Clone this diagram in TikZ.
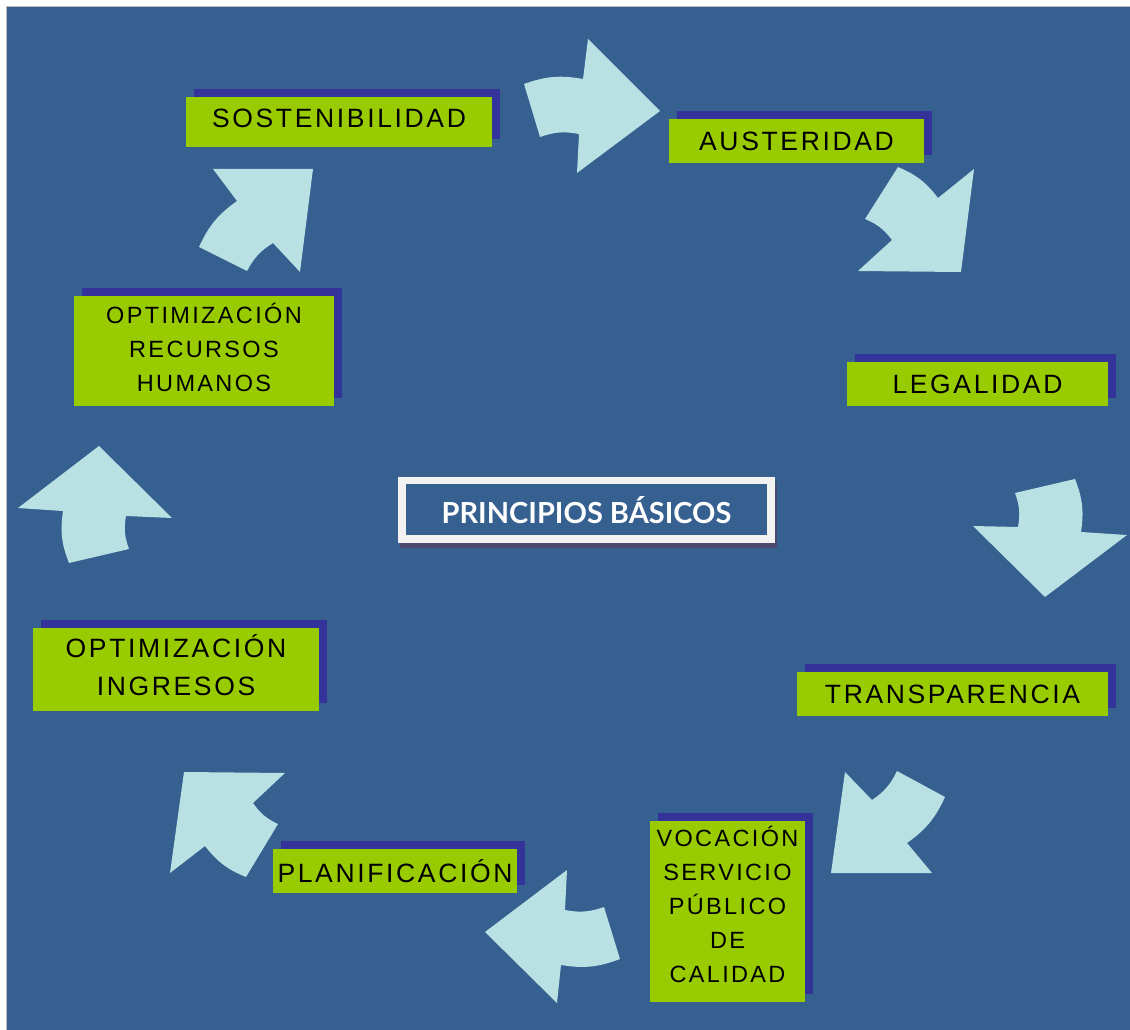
\documentclass[tikz,border=0pt]{standalone}
\usepackage{fontspec}
\setmainfont{Liberation Sans}
\newfontfamily\cajafont[LetterSpace=10]{Liberation Sans}
\newfontfamily\titulofont{Lato}
\usetikzlibrary{shadows}
\definecolor{fondo}{HTML}{35608F}
\definecolor{celeste}{HTML}{B9E0E3}
\definecolor{verde}{HTML}{99CC00}
\definecolor{sombra}{HTML}{333399}
\definecolor{sombratitulo}{HTML}{4A4A6E}
\definecolor{marco}{HTML}{F2F2F2}
\tikzset{
  principio/.style={fill=verde, text=black, inner sep=0pt, align=center,
    font=\cajafont\fontsize{26.5}{38}\selectfont,
    drop shadow={shadow xshift=8pt, shadow yshift=8pt, fill=sombra, opacity=1}},
  chico/.style={font=\cajafont\fontsize{23.5}{34}\selectfont},
  flecha/.style={fill=celeste},
  arcoext/.style={bend left=15},
  arcoint/.style={bend right=15},
}
\begin{document}
\begin{tikzpicture}[x=1pt, y=-1pt, line join=round]
  \useasboundingbox (0,0) rectangle (1130,1030);
  \fill[white] (0,0) rectangle (1130,1030);
  \filldraw[fill=fondo, draw=gray!55, line width=1pt] (6.5,6.5) rectangle (1131,1031);
  % flechas del ciclo
  \fill[flecha] (524,84) to[arcoext] (583,79) -- (588,39) -- (660,111) -- (577,173) -- (579,134) to[arcoint] (540,137) -- cycle;
  \fill[flecha] (898,167) to[arcoext] (938,198) -- (974,169) -- (961,272) -- (858,271) -- (892,240) to[arcoint] (865,219) -- cycle;
  \fill[flecha] (1075,479) to[arcoext] (1081,532) -- (1127,535) -- (1045,597) -- (973,526) -- (1018,527) to[arcoint] (1015,493) -- cycle;
  \fill[flecha] (945,797) to[arcoext] (907,843) -- (932,873) -- (831,873) -- (845,772) -- (872,800) to[arcoint] (897,771) -- cycle;
  \fill[flecha] (620,959) to[arcoext] (561,965) -- (557,1003) -- (485,932) -- (567,870) -- (565,910) to[arcoint] (604,907) -- cycle;
  \fill[flecha] (246,877) to[arcoext] (205,846) -- (170,873) -- (184,772) -- (285,773) -- (253,803) to[arcoint] (278,824) -- cycle;
  \fill[flecha] (69,563) to[arcoext] (63,511) -- (18,508) -- (99,446) -- (172,518) -- (126,516) to[arcoint] (129,549) -- cycle;
  \fill[flecha] (199,247) to[arcoext] (237,201) -- (213,169) -- (313,169) -- (300,272) -- (273,243) to[arcoint] (247,271) -- cycle;
  % centro
  \node (principios) at (586.5,510) [minimum width=377pt, minimum height=66pt, inner sep=0pt,
    fill=marco, text=white, font=\titulofont\bfseries\fontsize{29}{36}\selectfont,
    drop shadow={shadow xshift=2pt, shadow yshift=-5pt, fill=sombratitulo, opacity=1},
    path picture={\fill[fondo] ([xshift=8pt,yshift=8pt]path picture bounding box.south west)
      rectangle ([xshift=-8pt,yshift=-7pt]path picture bounding box.north east);}]
    {PRINCIPIOS BÁSICOS};
  % principios
  \node[principio, text depth=7pt, minimum width=306pt, minimum height=50pt] (sostenibilidad) at (339,122) {SOSTENIBILIDAD};
  \node[principio, minimum width=255pt, minimum height=44pt] (austeridad) at (796.5,141) {AUSTERIDAD};
  \node[principio, minimum width=261pt, minimum height=44pt] (legalidad) at (977.5,384) {LEGALIDAD};
  \node[principio, minimum width=311pt, minimum height=44pt] (transparencia) at (952.5,694) {TRANSPARENCIA};
  \node[principio, chico, text depth=14pt, minimum width=155pt, minimum height=181pt] (vocacion) at (727.5,911.5)
    {VOCACIÓN\\SERVICIO\\PÚBLICO\\DE\\CALIDAD};
  \node[principio, minimum width=244pt, minimum height=44pt] (planificacion) at (395,871) {PLANIFICACIÓN};
  \node[principio, text depth=8pt, minimum width=286pt, minimum height=83pt] (ingresos) at (176,669.5) {OPTIMIZACIÓN\\INGRESOS};
  \node[principio, chico, text depth=8pt, minimum width=260pt, minimum height=110pt] (rrhh) at (204,351)
    {OPTIMIZACIÓN\\RECURSOS\\HUMANOS};
\end{tikzpicture}
\end{document}
